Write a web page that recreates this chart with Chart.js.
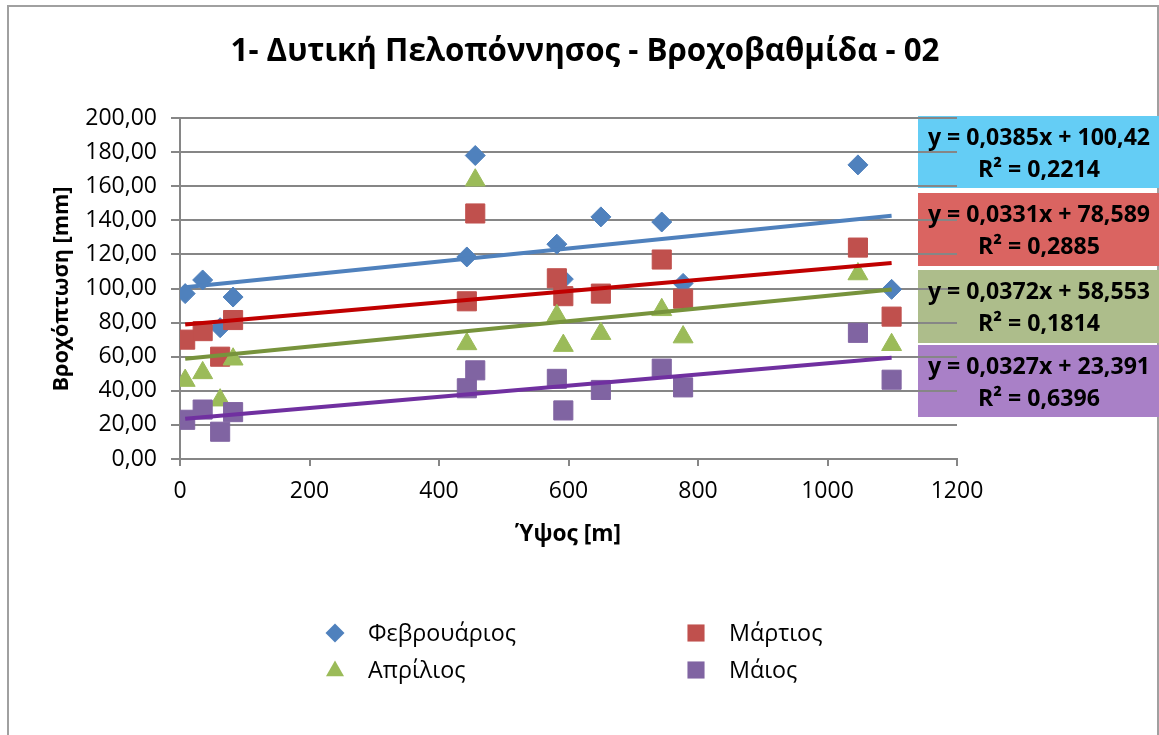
<!DOCTYPE html>
<html>
<head>
<meta charset="utf-8">
<script src="https://cdn.jsdelivr.net/npm/chart.js@4.4.0/dist/chart.umd.min.js"></script>
<style>
  body { margin: 0; background: #fff; }
</style>
</head>
<body>
<canvas id="canvas" width="1159" height="735"></canvas>
<script>
// elevation of each station [m]
const elevations = [8, 35, 62, 82, 443, 456, 582, 592, 650, 744, 777, 1047, 1099];
// rainfall [mm] per month
const feb = [97, 105, 77, 95, 118.5, 178, 126, 105.5, 142, 139, 103, 172.5, 99.5];
const mar = [70, 75, 60, 81.5, 92.5, 144, 106, 95.5, 97, 117, 94, 124, 83.5];
const apr = [46, 50.5, 34.5, 58.5, 67.5, 163.5, 84, 66.5, 73.5, 87.5, 71.5, 108.5, 67];
const may = [23, 29, 16, 27.5, 41.5, 52, 47, 28.5, 40.5, 53, 42, 74, 46.5];

const months = ['Φεβρουάριος', 'Μάρτιος', 'Απρίλιος', 'Μάιος'];
// linear trendlines as printed on the chart
const slopes = [0.0385, 0.0331, 0.0372, 0.0327];
const intercepts = [100.42, 78.589, 58.553, 23.391];
const rSquared = [0.2214, 0.2885, 0.1814, 0.6396];

const yTicks = [0, 20, 40, 60, 80, 100, 120, 140, 160, 180, 200];
const xTicks = [0, 200, 400, 600, 800, 1000, 1200];

const FONT = '"Open Sans", sans-serif';
const markerColors = ['#4F81BD', '#C0504D', '#9BBB59', '#8064A2'];
const lineColors = ['#4F81BD', '#C00000', '#77933C', '#7030A0'];
const boxColors = ['#64CDF5', '#DA6461', '#ADBD8B', '#A980C7'];
const shapes = ['rectRot', 'rect', 'triangle', 'rect'];
const radii = [10, 13.5, 11.5, 13.5];

const series = [feb, mar, apr, may];
const xMin = Math.min(...elevations);
const xMax = Math.max(...elevations);

function comma(n) {
  return String(n).replace('.', ',');
}

const datasets = [];
series.forEach(function (vals, i) {
  datasets.push({
    label: months[i],
    data: elevations.map((x, j) => ({ x: x, y: vals[j] })),
    pointStyle: shapes[i],
    pointRadius: radii[i],
    backgroundColor: markerColors[i],
    borderColor: markerColors[i],
    borderWidth: 1,
    order: 4 - i
  });
});
series.forEach(function (vals, i) {
  datasets.push({
    label: 'trend ' + months[i],
    data: [xMin, xMax].map(x => ({ x: x, y: slopes[i] * x + intercepts[i] })),
    showLine: true,
    pointRadius: 0,
    borderColor: lineColors[i],
    borderWidth: 4,
    order: 0
  });
});

function fitFont(ctx, text, weight, width) {
  ctx.font = weight + ' 20px ' + FONT;
  const size = 20 * width / ctx.measureText(text).width;
  ctx.font = weight + ' ' + size.toFixed(1) + 'px ' + FONT;
}

function marker(ctx, shape, x, y, s) {
  ctx.beginPath();
  if (shape == 'rectRot') {
    ctx.moveTo(x - s, y); ctx.lineTo(x, y - s); ctx.lineTo(x + s, y); ctx.lineTo(x, y + s);
  } else if (shape == 'triangle') {
    ctx.moveTo(x, y - s); ctx.lineTo(x + s * 0.95, y + s * 0.65); ctx.lineTo(x - s * 0.95, y + s * 0.65);
  } else {
    ctx.rect(x - s * 0.9, y - s * 0.9, s * 1.8, s * 1.8);
  }
  ctx.closePath();
  ctx.fill();
}

const boxes = [[116, 188], [193, 266], [270, 343], [345, 417]];

const decor = {
  id: 'decor',
  beforeDraw(chart) {
    const ctx = chart.ctx;
    ctx.save();
    ctx.fillStyle = '#fff';
    ctx.fillRect(0, 0, chart.width, chart.height);
    ctx.strokeStyle = '#a0a0a0';
    ctx.lineWidth = 2;
    ctx.strokeRect(8, 6, 1150, 760);
    boxes.forEach(function (b, i) {
      ctx.fillStyle = boxColors[i];
      ctx.fillRect(918, b[0], 1159 - 918, b[1] - b[0]);
    });
    ctx.restore();
  },
  afterDraw(chart) {
    const ctx = chart.ctx;
    ctx.save();
    ctx.fillStyle = '#000';
    ctx.textAlign = 'center';
    ctx.textBaseline = 'middle';

    const title = '1- Δυτική Πελοπόννησος - Βροχοβαθμίδα - 02';
    fitFont(ctx, title, 'bold', 708);
    ctx.fillText(title, 585, 52);

    fitFont(ctx, 'Ύψος [m]', 'bold', 106);
    ctx.fillText('Ύψος [m]', 568, 535);

    ctx.save();
    ctx.translate(62, 289);
    ctx.rotate(-Math.PI / 2);
    fitFont(ctx, 'Βροχόπτωση [mm]', 'bold', 205);
    ctx.fillText('Βροχόπτωση [mm]', 0, 0);
    ctx.restore();

    // trendline equations
    const eqs = slopes.map((s, i) => 'y = ' + comma(s) + 'x + ' + comma(intercepts[i]));
    fitFont(ctx, eqs[0], 'bold', 222);
    boxes.forEach(function (b, i) {
      ctx.fillText(eqs[i], 1039, b[0] + 22);
      ctx.fillText('R² = ' + comma(rSquared[i]), 1039, b[0] + 54);
    });

    // legend
    const pos = [[335, 633], [696, 633], [335, 670], [696, 670]];
    fitFont(ctx, months[0], 'normal', 148);
    ctx.textAlign = 'left';
    months.forEach(function (m, i) {
      ctx.fillStyle = markerColors[i];
      marker(ctx, shapes[i], pos[i][0], pos[i][1], 9.5);
      ctx.fillStyle = '#000';
      ctx.fillText(m, pos[i][0] + 33, pos[i][1] + 1);
    });
    ctx.restore();
  }
};

const canvas = document.getElementById('canvas');
const chart = new Chart(canvas, {
  type: 'scatter',
  data: { datasets: datasets },
  options: {
    responsive: false,
    animation: false,
    layout: { padding: { left: 0, right: 202, top: 118, bottom: 216 } },
    plugins: {
      legend: { display: false },
      tooltip: { enabled: false },
      title: { display: false }
    },
    scales: {
      x: {
        type: 'linear',
        min: 0,
        max: 1200,
        afterFit: function (s) { s.height = 60; },
        afterBuildTicks: function (s) { s.ticks = xTicks.map(v => ({ value: v })); },
        ticks: {
          color: '#000',
          font: { family: FONT, size: 23 },
          padding: 12,
          maxRotation: 0,
          callback: v => String(v)
        },
        grid: { drawOnChartArea: false, drawTicks: true, tickLength: 7, color: '#868686', lineWidth: 2 },
        border: { color: '#868686', width: 2 }
      },
      y: {
        min: 0,
        max: 200,
        afterFit: function (s) { s.width = 180; },
        afterBuildTicks: function (s) { s.ticks = yTicks.map(v => ({ value: v })); },
        ticks: {
          color: '#000',
          font: { family: FONT, size: 23 },
          padding: 14,
          callback: v => v.toFixed(2).replace('.', ',')
        },
        grid: { color: '#868686', lineWidth: 2, tickLength: 9 },
        border: { color: '#868686', width: 2 }
      }
    }
  },
  plugins: [decor]
});
</script>
</body>
</html>
